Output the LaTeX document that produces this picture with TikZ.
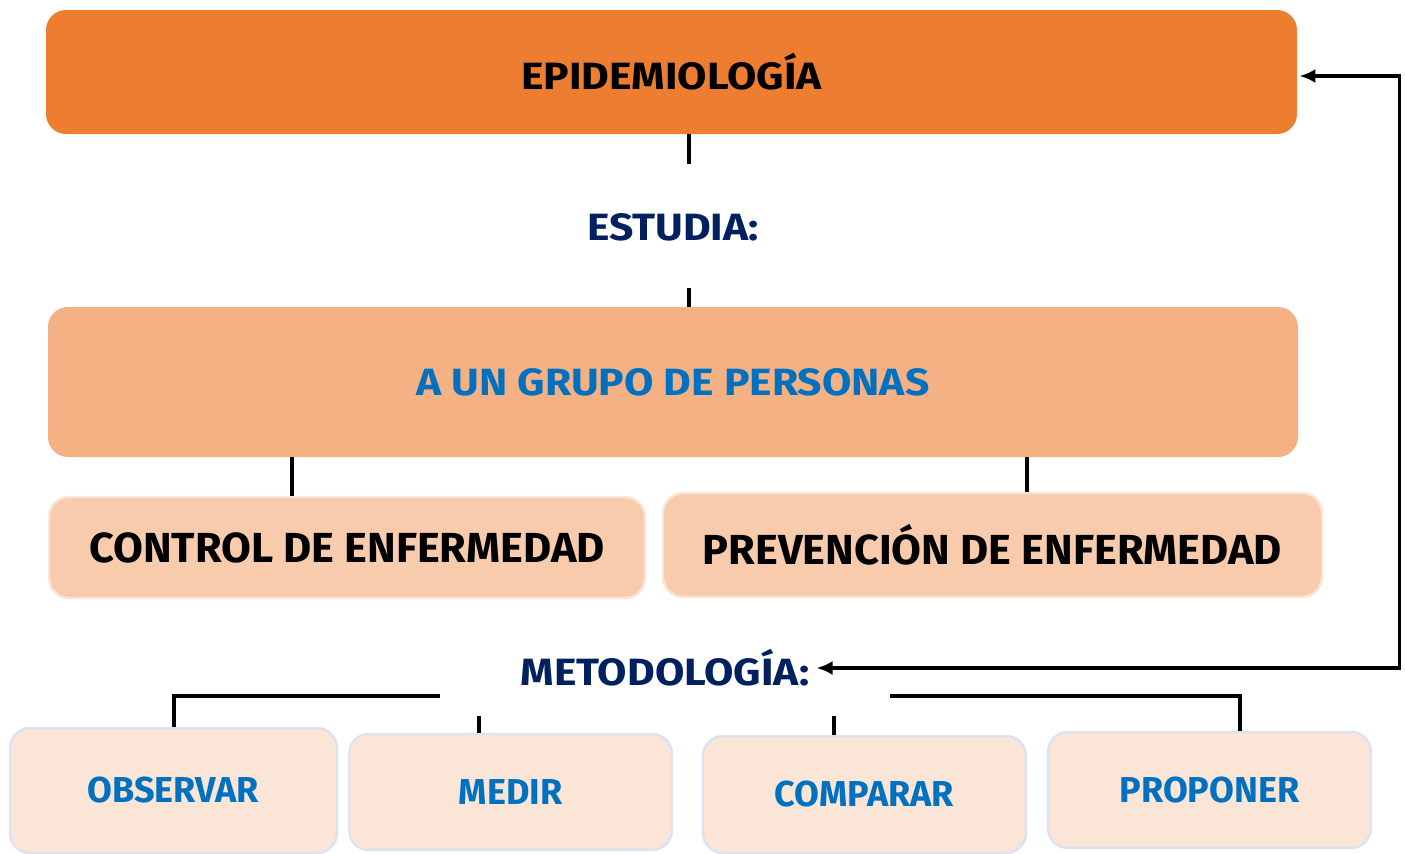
\documentclass[tikz,border=0pt]{standalone}
\usepackage{fontspec}
\setmainfont{Fira Sans}
\newfontfamily\ancha[FakeStretch=1.12]{Fira Sans}
\newfontfamily\media[FakeStretch=1.03]{Fira Sans}
\usetikzlibrary{arrows.meta}
\definecolor{naranja}{HTML}{ED7D31}
\definecolor{naranjaclaro}{HTML}{F4B183}
\definecolor{salmon}{HTML}{F8CBAD}
\definecolor{crema}{HTML}{FBE5D6}
\definecolor{bordeazul}{HTML}{DAE3F3}
\definecolor{marino}{HTML}{002060}
\definecolor{azul}{HTML}{0070C0}

\begin{document}
\begin{tikzpicture}[x=0.5pt, y=-0.5pt,
  caja/.style={rounded corners=10pt, inner sep=0pt, font=\ancha\bfseries\fontsize{19}{22}\selectfont},
  tema/.style={caja, fill=naranja, text=black},
  grupo/.style={caja, fill=naranjaclaro, text=azul},
  rama/.style={caja, fill=salmon, draw=crema, line width=1.2pt, text=black, font=\media\bfseries\fontsize{21}{24}\selectfont},
  paso/.style={caja, fill=crema, draw=bordeazul, line width=1.2pt, text=azul, font=\bfseries\fontsize{18}{22}\selectfont},
  etiqueta/.style={text=marino, font=\ancha\bfseries\fontsize{19}{22}\selectfont},
  linea/.style={line width=2pt},
  flecha/.style={line width=1.8pt, {Latex[length=8pt,width=7pt]}-{Latex[length=8pt,width=7pt]}}]
  \useasboundingbox (0,0) rectangle (1405,853);

  % niveles superiores
  \node[tema, minimum width=625.5pt, minimum height=62pt] (epi) at (671.5,72) {EPIDEMIOLOGÍA};
  \node[etiqueta] (estudia) at (673,227) {ESTUDIA:};
  \node[grupo, minimum width=625pt, minimum height=75pt] (personas) at (673,382) {A UN GRUPO DE PERSONAS};
  \node[rama, minimum width=298pt, minimum height=50.5pt] (control) at (347,547.5) {CONTROL DE ENFERMEDAD};
  \node[rama, minimum width=329.5pt, minimum height=52pt] (prevencion) at (992.5,545) {PREVENCIÓN DE ENFERMEDAD};

  % metodologia
  \node[etiqueta] (metodo) at (665,668) {METODOLOGÍA:};
  \node[paso, minimum width=163.5pt, minimum height=62.5pt] (observar) at (173.5,790.5) {OBSERVAR};
  \node[paso, minimum width=161.5pt, minimum height=58pt] (medir) at (510.5,792) {MEDIR};
  \node[paso, minimum width=161.5pt, minimum height=58.5pt] (comparar) at (864.5,794.5) {COMPARAR};
  \node[paso, minimum width=161.5pt, minimum height=58pt] (proponer) at (1209.5,790) {PROPONER};

  \coordinate (e1) at (689,164);
  \coordinate (e2) at (689,288);
  \coordinate (c1) at (292,457);
  \coordinate (c2) at (1027,457);
  \coordinate (m1) at (440,696);
  \coordinate (m2) at (890,696);
  \coordinate (m3) at (479,716);
  \coordinate (m4) at (834,716);
  \coordinate (p1) at (1240,696);

  \draw[linea] (epi.south -| e1) -- (e1);
  \draw[linea] (e2) -- (personas.north -| e2);
  \draw[linea] (c1) -- (control.north -| c1);
  \draw[linea] (c2) -- (prevencion.north -| c2);
  \draw[linea] (m1) -| (observar.north);
  \draw[linea] (m2) -- (p1) -- (proponer.north -| p1);
  \draw[linea] (m3) -- (medir.north -| m3);
  \draw[linea] (m4) -- (comparar.north -| m4);

  \draw[flecha] (epi.east) ++(2,4) -- ++(100,0) |- (metodo.east);
\end{tikzpicture}
\end{document}
